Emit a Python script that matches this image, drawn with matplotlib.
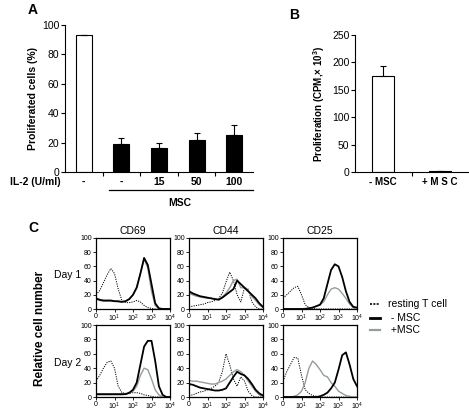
import matplotlib
matplotlib.use("Agg")
import matplotlib.pyplot as plt

plt.rcParams['font.family'] = ['Liberation Sans', 'DejaVu Sans']
plt.rcParams['mathtext.fontset'] = 'custom'
plt.rcParams['mathtext.rm'] = 'Liberation Sans'
plt.rcParams['mathtext.bf'] = 'Liberation Sans:bold'

# panel A
a_labels = ['-', '-', '15', '50', '100']
a_values = [93, 19, 16, 22, 25]
a_errors = [0.5, 4, 4, 4.5, 7]
a_colors = ['white', 'black', 'black', 'black', 'black']

# panel B
b_labels = ['- MSC', '+ M S C']
b_values = [175, 2]
b_errors = [18, 0.5]

# panel C: FACS histograms, x in decades (0 .. 10^4)
hist_x = [0, 0.2, 0.4, 0.6, 0.8, 1.0, 1.2, 1.4, 1.6, 1.8, 2.0,
          2.2, 2.4, 2.6, 2.8, 3.0, 3.2, 3.4, 3.6, 3.8, 4.0]
markers = ['CD69', 'CD44', 'CD25']
days = ['Day 1', 'Day 2']

cd69_d1_rest = [20, 26, 37, 48, 57, 50, 28, 12, 9, 9, 10, 12, 10, 5, 2, 1, 0, 0, 0, 0, 0]
cd69_d1_neg = [15, 13, 12, 12, 12, 11, 11, 10, 11, 14, 20, 30, 50, 72, 62, 35, 8, 1, 0, 0, 0]
cd69_d1_pos = [14, 12, 11, 11, 11, 11, 10, 10, 11, 14, 20, 31, 50, 70, 58, 25, 5, 0, 0, 0, 0]

cd44_d1_rest = [3, 4, 5, 6, 7, 9, 10, 12, 15, 22, 38, 52, 40, 20, 10, 30, 28, 10, 3, 0, 0]
cd44_d1_neg = [25, 22, 20, 18, 17, 16, 15, 14, 13, 16, 20, 24, 28, 40, 35, 30, 25, 20, 15, 8, 3]
cd44_d1_pos = [22, 20, 18, 17, 16, 15, 15, 14, 14, 17, 22, 30, 40, 42, 30, 30, 25, 18, 12, 6, 2]

cd25_d1_rest = [15, 20, 25, 30, 32, 20, 6, 2, 1, 0, 0, 0, 0, 0, 0, 0, 0, 0, 0, 0, 0]
cd25_d1_neg = [0, 0, 0, 0, 0, 0, 0, 1, 2, 4, 6, 15, 35, 55, 63, 60, 45, 25, 10, 3, 2]
cd25_d1_pos = [0, 0, 0, 0, 0, 0, 1, 1, 2, 4, 6, 10, 20, 28, 30, 28, 22, 15, 7, 2, 1]

cd69_d2_rest = [22, 30, 40, 48, 50, 40, 15, 6, 5, 5, 6, 6, 5, 3, 2, 1, 0, 0, 0, 0, 0]
cd69_d2_neg = [4, 4, 4, 4, 4, 4, 4, 4, 4, 6, 10, 20, 45, 70, 78, 78, 50, 15, 3, 0, 0]
cd69_d2_pos = [3, 3, 3, 3, 3, 3, 3, 3, 4, 5, 8, 15, 30, 40, 38, 25, 10, 3, 0, 0, 0]

cd44_d2_rest = [2, 3, 5, 7, 8, 10, 12, 15, 20, 35, 60, 45, 25, 15, 28, 22, 8, 2, 0, 0, 0]
cd44_d2_neg = [18, 17, 15, 13, 12, 11, 10, 9, 9, 10, 12, 20, 28, 35, 32, 30, 25, 18, 10, 5, 2]
cd44_d2_pos = [23, 22, 22, 21, 20, 19, 18, 18, 20, 22, 25, 30, 35, 38, 35, 30, 22, 15, 8, 3, 1]

cd25_d2_rest = [22, 35, 45, 55, 54, 30, 10, 5, 2, 1, 0, 0, 0, 0, 0, 0, 0, 0, 0, 0, 0]
cd25_d2_neg = [0, 0, 0, 0, 0, 0, 0, 0, 0, 0, 1, 3, 6, 12, 20, 38, 58, 62, 45, 25, 15]
cd25_d2_pos = [0, 0, 0, 1, 3, 8, 20, 40, 50, 45, 38, 30, 28, 20, 15, 8, 5, 2, 1, 0, 0]

hists = [
    [(cd69_d1_rest, cd69_d1_neg, cd69_d1_pos),
     (cd44_d1_rest, cd44_d1_neg, cd44_d1_pos),
     (cd25_d1_rest, cd25_d1_neg, cd25_d1_pos)],
    [(cd69_d2_rest, cd69_d2_neg, cd69_d2_pos),
     (cd44_d2_rest, cd44_d2_neg, cd44_d2_pos),
     (cd25_d2_rest, cd25_d2_neg, cd25_d2_pos)],
]
hist_xlabels = ['0', r'$\mathregular{10^{1}}$', r'$\mathregular{10^{2}}$',
                r'$\mathregular{10^{3}}$', r'$\mathregular{10^{4}}$']
legend_labels = ['resting T cell', ' - MSC', ' +MSC']

W, H = 469, 412
fig = plt.figure(figsize=(W / 100, H / 100), dpi=100)
gray = '#949c9c'

def fx(px):
    return px / W

def fy(py):
    return 1 - py / H

# ---------- A ----------
axA = fig.add_axes([fx(65), fy(172), fx(253) - fx(65), fy(25) - fy(172)])
xs = list(range(len(a_values)))
axA.bar(xs, a_values, width=0.43, color=a_colors, edgecolor='black', linewidth=0.8,
        yerr=[[0] * len(a_errors), a_errors], error_kw=dict(ecolor='black', elinewidth=0.8, capsize=2.5, capthick=0.8))
axA.set_xlim(-0.5, 4.5)
axA.set_ylim(0, 100)
axA.set_yticks([0, 20, 40, 60, 80, 100])
axA.set_xticks([0.5, 1.5, 2.5, 3.5])
axA.set_xticklabels([])
axA.tick_params(labelsize=7.5, length=3, width=0.8, direction='out', pad=1)
for s in ['top', 'right']:
    axA.spines[s].set_visible(False)
for s in ['left', 'bottom']:
    axA.spines[s].set_linewidth(0.8)
axA.set_ylabel('Proliferated cells (%)', fontsize=7.5, fontweight='bold', labelpad=3)
for x, lab in zip(xs, a_labels):
    axA.text(x, -7, lab, ha='center', va='center', fontsize=7.5, fontweight='bold')
axA.text(-0.62, -7, 'IL-2 (U/ml)', ha='right', va='center', fontsize=7.5, fontweight='bold')
axA.plot([0.68, 4.5], [-12.5, -12.5], color='black', lw=0.9, clip_on=False)
axA.text(2.55, -21, 'MSC', ha='center', va='center', fontsize=7.5, fontweight='bold')

# ---------- B ----------
axB = fig.add_axes([fx(355), fy(172), fx(468) - fx(355), fy(35) - fy(172)])
axB.bar([0, 1], b_values, width=0.39, color=['white', 'black'], edgecolor='black', linewidth=0.8,
        yerr=[[0, 0], b_errors], error_kw=dict(ecolor='black', elinewidth=0.8, capsize=2.5, capthick=0.8))
axB.set_xlim(-0.5, 1.5)
axB.set_ylim(0, 250)
axB.set_yticks([0, 50, 100, 150, 200, 250])
axB.set_xticks([0.5])
axB.set_xticklabels([])
axB.tick_params(labelsize=7.5, length=3, width=0.8, direction='out', pad=1)
for s in ['top', 'right']:
    axB.spines[s].set_visible(False)
for s in ['left', 'bottom']:
    axB.spines[s].set_linewidth(0.8)
axB.set_ylabel(r'Proliferation (CPM,× $\mathbf{10^3}$)', fontsize=7, fontweight='bold', labelpad=4)
for x, lab in zip([0, 1], b_labels):
    axB.text(x, -19, lab, ha='center', va='center', fontsize=7, fontweight='bold')

# ---------- C ----------
cols = [96, 189, 283]
rows = [(238, 309), (325, 397)]
for r, (top, bot) in enumerate(rows):
    for c, left in enumerate(cols):
        ax = fig.add_axes([fx(left), fy(bot), fx(left + 74) - fx(left), fy(top) - fy(bot)])
        rest, neg, pos = hists[r][c]
        ax.plot(hist_x, rest, color='black', lw=0.7, ls=(0, (1.2, 1.2)))
        ax.plot(hist_x, pos, color=gray, lw=1.0)
        ax.plot(hist_x, neg, color='black', lw=1.3)
        ax.set_xlim(0, 4)
        ax.set_ylim(0, 100)
        ax.set_xticks([0, 1, 2, 3, 4])
        ax.set_xticklabels(hist_xlabels)
        ax.set_yticks([0, 20, 40, 60, 80, 100])
        ax.tick_params(labelsize=5, length=2, width=0.6, pad=1)
        for s in ax.spines.values():
            s.set_linewidth(0.9)
        if r == 0:
            ax.set_title(markers[c], fontsize=7.5, pad=3)

fig.text(fx(40), fy(328), 'Relative cell number', rotation=90, ha='center', va='center',
         fontsize=8.5, fontweight='bold')
fig.text(fx(54), fy(275), days[0], ha='left', va='center', fontsize=7.5)
fig.text(fx(54), fy(363), days[1], ha='left', va='center', fontsize=7.5)

# legend
leg_y = [304, 318, 330]
leg_styles = [dict(color='black', lw=1.2, ls=(0, (1.2, 0.8))),
              dict(color='black', lw=2.0),
              dict(color=gray, lw=1.6)]
for y, lab, st in zip(leg_y, legend_labels, leg_styles):
    fig.add_artist(plt.Line2D([fx(370), fx(380)], [fy(y), fy(y)], **st))
    fig.text(fx(388), fy(y), lab, ha='left', va='center', fontsize=7.5)

# panel letters
fig.text(fx(28), fy(10), 'A', fontsize=10, fontweight='bold', ha='left', va='center')
fig.text(fx(289), fy(15), 'B', fontsize=10, fontweight='bold', ha='left', va='center')
fig.text(fx(28), fy(228), 'C', fontsize=10, fontweight='bold', ha='left', va='center')

fig.savefig('out.png', dpi=100)
